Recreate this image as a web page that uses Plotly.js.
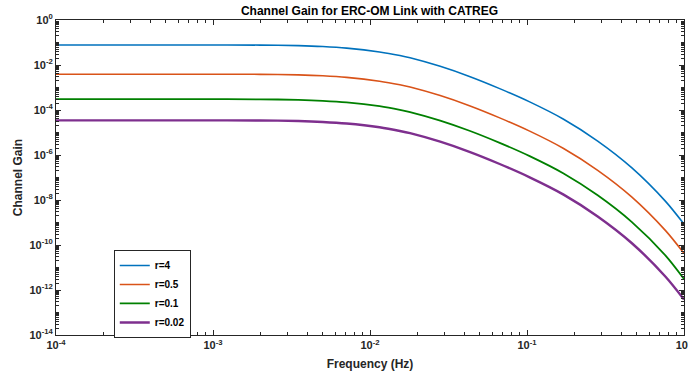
<!DOCTYPE html>
<html>
<head>
<meta charset="utf-8">
<script src="https://cdn.plot.ly/plotly-3.0.1.min.js"></script>
<style>html,body{margin:0;padding:0;background:#fff;}#chart{width:688px;height:373px;}</style>
</head>
<body>
<div id="chart"></div>
<script>
// Frequency samples (Hz)
var freq = [1e-4, 1e-3, 2e-3, 3.5e-3, 5e-3, 7.1e-3, 1.15e-2, 1.55e-2, 1.8e-2, 2.8e-2, 4.3e-2, 6.7e-2, 0.104, 0.171, 0.282, 0.464, 0.763, 1];
// Channel gain for each r
var gainR4   = [7.76e-2, 7.76e-2, 7.67e-2, 7.24e-2, 6.61e-2, 5.62e-2, 3.80e-2, 2.63e-2, 2.09e-2, 8.71e-3, 3.09e-3, 8.91e-4, 2.29e-4, 3.89e-5, 4.17e-6, 2.75e-7, 8.71e-9, 8.51e-10];
var gainR05  = [3.89e-3, 3.89e-3, 3.85e-3, 3.63e-3, 3.31e-3, 2.82e-3, 1.91e-3, 1.32e-3, 1.05e-3, 4.37e-4, 1.55e-4, 4.47e-5, 1.15e-5, 1.95e-6, 2.09e-7, 1.38e-8, 4.37e-10, 4.27e-11];
var gainR01  = [3.02e-4, 3.02e-4, 2.99e-4, 2.82e-4, 2.57e-4, 2.19e-4, 1.48e-4, 1.02e-4, 8.13e-5, 3.39e-5, 1.20e-5, 3.47e-6, 8.91e-7, 1.51e-7, 1.62e-8, 1.07e-9, 3.39e-11, 3.1e-12];
var gainR002 = [3.47e-5, 3.47e-5, 3.43e-5, 3.24e-5, 2.95e-5, 2.51e-5, 1.70e-5, 1.17e-5, 9.33e-6, 3.89e-6, 1.38e-6, 3.98e-7, 1.02e-7, 1.74e-8, 1.86e-9, 1.23e-10, 3.89e-12, 3.80e-13];
var seriesNames = ['r=4', 'r=0.5', 'r=0.1', 'r=0.02'];

// Tick labels
var xTickVals = [1e-4, 1e-3, 1e-2, 1e-1, 1];
var xTickText = ['10<sup>-4</sup>', '10<sup>-3</sup>', '10<sup>-2</sup>', '10<sup>-1</sup>', '10<sup>0</sup>'];
var yTickVals = [1e-14, 1e-12, 1e-10, 1e-8, 1e-6, 1e-4, 1e-2, 1];
var yTickText = ['10<sup>-14</sup>', '10<sup>-12</sup>', '10<sup>-10</sup>', '10<sup>-8</sup>', '10<sup>-6</sup>', '10<sup>-4</sup>', '10<sup>-2</sup>', '10<sup>0</sup>'];

var colors = ['#0072BD', '#D95319', '#008000', '#7E2F8E'];
var widths = [1.6, 1.6, 1.8, 2.4];
var allGains = [gainR4, gainR05, gainR01, gainR002];

var traces = allGains.map(function (g, i) {
  return {
    x: freq, y: g, type: 'scatter', mode: 'lines', name: seriesNames[i],
    line: {color: colors[i], width: widths[i], shape: 'spline', smoothing: 0.8}
  };
});

var axisCommon = {
  type: 'log',
  showline: true, linecolor: '#262626', linewidth: 1,
  mirror: 'ticks', ticks: 'inside', ticklen: 5, tickcolor: '#262626',
  showgrid: false, zeroline: false,
  tickfont: {family: 'Liberation Sans, Arial, sans-serif', size: 11, color: '#262626', weight: 'bold'},
  tickmode: 'array',
  ticklabeloverflow: 'allow',
  minor: {tickmode: 'linear', dtick: 'D1', ticks: 'inside', ticklen: 3, tickcolor: '#262626', showgrid: false}
};

var layout = {
  width: 688, height: 373,
  margin: {l: 56, r: 4, t: 20, b: 38},
  paper_bgcolor: '#ffffff', plot_bgcolor: '#ffffff',
  showlegend: true,
  title: {
    text: '<b>Channel Gain for ERC-OM Link with CATREG</b>',
    font: {family: 'Liberation Sans, Arial, sans-serif', size: 12, color: '#000'},
    x: 0.537, xanchor: 'center', y: 0.972, yanchor: 'middle'
  },
  xaxis: Object.assign({}, axisCommon, {
    range: [-4, 0], tickvals: xTickVals, ticktext: xTickText,
    title: {text: '<b>Frequency (Hz)</b>', font: {family: 'Liberation Sans, Arial, sans-serif', size: 12, color: '#262626'}, standoff: 9}
  }),
  yaxis: Object.assign({}, axisCommon, {
    range: [-14, 0], tickvals: yTickVals, ticktext: yTickText,
    title: {text: '<b>Channel Gain</b>', font: {family: 'Liberation Sans, Arial, sans-serif', size: 12, color: '#262626'}, standoff: 4}
  }),
  legend: {
    x: 0.092, y: 0.27, xanchor: 'left', yanchor: 'top',
    bgcolor: '#ffffff', bordercolor: '#262626', borderwidth: 1,
    font: {family: 'Liberation Sans, Arial, sans-serif', size: 10, color: '#000', weight: 'bold'},
    itemwidth: 30
  }
};

Plotly.newPlot('chart', traces, layout, {displayModeBar: false, staticPlot: true});
</script>
</body>
</html>
